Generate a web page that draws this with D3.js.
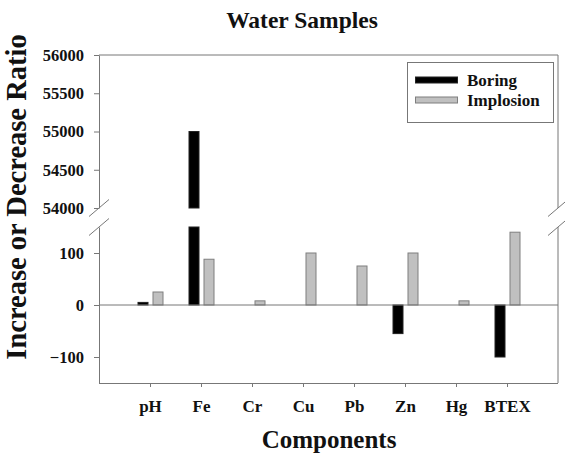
<!DOCTYPE html>
<html>
<head>
<meta charset="utf-8">
<script src="https://cdn.jsdelivr.net/npm/d3@7"></script>
<style>
  html, body { margin: 0; padding: 0; background: #fff; }
  svg text { font-family: "Liberation Serif", "Times New Roman", serif; font-weight: bold; fill: #111; }
</style>
</head>
<body>
<svg id="chart" width="565" height="455"></svg>
<script>
const categories = ["pH", "Fe", "Cr", "Cu", "Pb", "Zn", "Hg", "BTEX"];
const seriesNames = ["Boring", "Implosion"];
const boring    = [5, 55000, 0, 0, 0, -55, 0, -100];
const implosion = [25, 88, 8, 100, 75, 100, 8, 140];
const upperTicks = [54000, 54500, 55000, 55500, 56000];
const lowerTicks = [-100, 0, 100];
const upperDomain = [54000, 56000];
const lowerDomain = [-150, 150];

const svg = d3.select("#chart");
const left = 99, right = 558;
const axisColor = "#777";

const x = d3.scalePoint().domain(categories).range([left, right]).padding(1);
const xs = d3.scaleBand().domain(seriesNames).range([-12, 13]).paddingInner(1/3);
const yTop = d3.scaleLinear().domain(upperDomain).range([208, 55]);
const yBot = d3.scaleLinear().domain(lowerDomain).range([383, 227]);

const data = [];
categories.forEach((c, i) => {
  data.push({cat: c, s: "Boring", v: boring[i]});
  data.push({cat: c, s: "Implosion", v: implosion[i]});
});
const fill = {Boring: "#000", Implosion: "#c0c0c0"};
const stroke = {Boring: "#222", Implosion: "#7f7f7f"};

// lower panel bars
const clampL = v => Math.max(lowerDomain[0], Math.min(lowerDomain[1], v));
svg.append("g").selectAll("rect").data(data.filter(d => d.v !== 0)).join("rect")
  .attr("x", d => x(d.cat) + xs(d.s))
  .attr("width", xs.bandwidth())
  .attr("y", d => yBot(Math.max(0, clampL(d.v))))
  .attr("height", d => Math.abs(yBot(clampL(d.v)) - yBot(0)))
  .attr("fill", d => fill[d.s])
  .attr("stroke", d => stroke[d.s]).attr("stroke-width", 1);

// upper panel bars
svg.append("g").selectAll("rect").data(data.filter(d => d.v > upperDomain[0])).join("rect")
  .attr("x", d => x(d.cat) + xs(d.s))
  .attr("width", xs.bandwidth())
  .attr("y", d => yTop(Math.min(upperDomain[1], d.v)))
  .attr("height", d => yTop(upperDomain[0]) - yTop(Math.min(upperDomain[1], d.v)))
  .attr("fill", d => fill[d.s])
  .attr("stroke", d => stroke[d.s]).attr("stroke-width", 1);

// zero line
svg.append("line").attr("x1", left).attr("x2", right)
  .attr("y1", yBot(0)).attr("y2", yBot(0)).attr("stroke", axisColor);

function styleAxis(g) {
  g.selectAll("path, line").attr("stroke", axisColor);
  g.selectAll("text").attr("fill", "#111").attr("font-family", null).attr("font-size", null);
}

// left axes
const gTop = svg.append("g").attr("transform", `translate(${left},0)`)
  .call(d3.axisLeft(yTop).tickValues(upperTicks).tickSize(5).tickSizeOuter(0).tickPadding(10).tickFormat(d3.format("d")));
const gBot = svg.append("g").attr("transform", `translate(${left},0)`)
  .call(d3.axisLeft(yBot).tickValues(lowerTicks).tickSize(5).tickSizeOuter(0).tickPadding(10).tickFormat(d3.format("d")));
[gTop, gBot].forEach(g => { styleAxis(g); g.selectAll("text").style("font-size", "16.5px"); });

// right borders and top border
[yTop, yBot].forEach(s => {
  svg.append("line").attr("x1", right).attr("x2", right)
    .attr("y1", s.range()[0]).attr("y2", s.range()[1]).attr("stroke", axisColor);
});
svg.append("line").attr("x1", left).attr("x2", right)
  .attr("y1", yTop.range()[1]).attr("y2", yTop.range()[1]).attr("stroke", axisColor);

// bottom axis
const gX = svg.append("g").attr("transform", `translate(0,${yBot.range()[0]})`)
  .call(d3.axisBottom(x).tickSize(4).tickSizeOuter(0));
gX.select(".domain").attr("d", `M${left},0.5H${right}`);
styleAxis(gX);
gX.selectAll("text").attr("y", 29).attr("dy", 0).style("font-size", "17px");

// break marks
const breaks = [];
[left, right].forEach(bx => {
  [yTop.range()[0], yBot.range()[1]].forEach(by => breaks.push([bx, by]));
});
svg.append("g").selectAll("line").data(breaks).join("line")
  .attr("x1", d => d[0] - 10).attr("y1", d => d[1] + 8.5)
  .attr("x2", d => d[0] + 10).attr("y2", d => d[1] - 8.5)
  .attr("stroke", axisColor).attr("stroke-width", 1);

// titles
svg.append("text").attr("x", 302).attr("y", 28).attr("text-anchor", "middle")
  .style("font-size", "23.5px").text("Water Samples");
svg.append("text").attr("x", 329).attr("y", 448).attr("text-anchor", "middle")
  .style("font-size", "25px").text("Components");
svg.append("text").attr("transform", "translate(26,197) rotate(-90)").attr("text-anchor", "middle")
  .style("font-size", "28.5px").text("Increase or Decrease Ratio");

// legend
const lg = svg.append("g");
lg.append("rect").attr("x", 407.5).attr("y", 62.5).attr("width", 146).attr("height", 60)
  .attr("fill", "#fff").attr("stroke", axisColor);
seriesNames.forEach((s, i) => {
  const cy = 80 + i * 20;
  lg.append("rect").attr("x", 415.5).attr("y", cy - 3).attr("width", 42).attr("height", 6)
    .attr("fill", fill[s]).attr("stroke", stroke[s]);
  lg.append("text").attr("x", 467).attr("y", cy + 6).style("font-size", "17px").text(s);
});
</script>
</body>
</html>
